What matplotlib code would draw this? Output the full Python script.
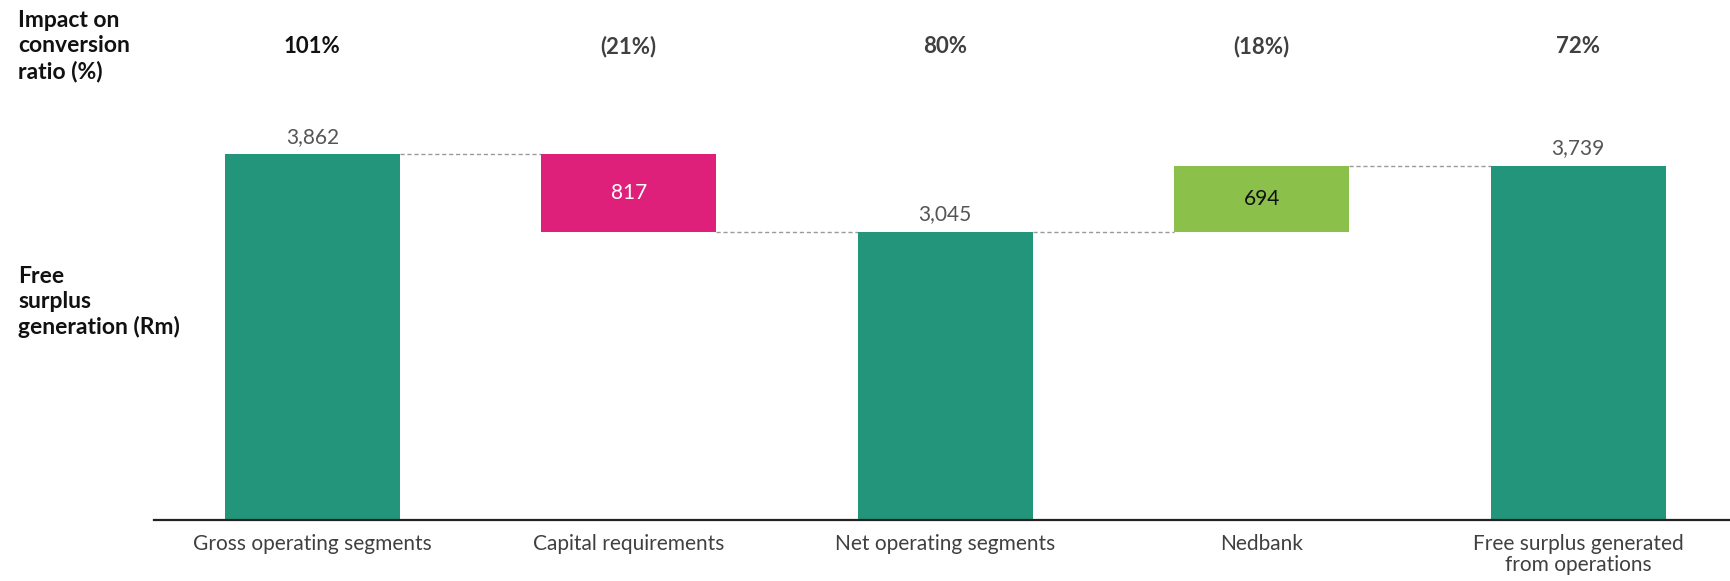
import matplotlib.pyplot as plt

# Waterfall values (Rm)
categories = ["Gross operating segments", "Capital requirements", "Net operating segments",
              "Nedbank", "Free surplus generated\nfrom operations"]
values = [3862, -817, 3045, 694, 3739]
kinds = ["total", "delta", "total", "delta", "total"]
ratio_labels = ["101%", "(21%)", "80%", "(18%)", "72%"]

TEAL = "#23957A"
PINK = "#DE207A"
LIME = "#8BC04B"
TEXT = "#404040"

plt.rcParams['font.family'] = ['Lato', 'DejaVu Sans']

fig = plt.figure(figsize=(17.3, 5.81), dpi=100)
ax = fig.add_axes([154 / 1730, 61 / 581, 1 - 154 / 1730, 520 / 581])

width = 0.553
running = 0
levels = []
for i, (v, kind) in enumerate(zip(values, kinds)):
    if kind == "total":
        bottom, height = 0, v
        running = v
        color = TEAL
    else:
        start = running
        running = running + v
        bottom = min(start, running)
        height = abs(v)
        color = PINK if v < 0 else LIME
    ax.bar(i, height, bottom=bottom, width=width, color=color, zorder=2)
    levels.append(running)

    if kind == "total":
        ax.text(i, v + 80, f"{v:,}", ha="center", va="bottom", fontsize=15,
                color="#555555")
    else:
        ax.text(i, bottom + height / 2, f"{abs(v):,}", ha="center", va="center",
                fontsize=15, color="white" if v < 0 else "#111111")

# dashed connectors between bars
for i in range(len(values) - 1):
    ax.plot([i + width / 2, i + 1 - width / 2], [levels[i], levels[i]], ls=(0, (3, 2)),
            color="#9a9a9a", lw=1, zorder=1)

# conversion ratio row
for i, lab in enumerate(ratio_labels):
    ax.text(i, 0.9115, lab, transform=ax.get_xaxis_transform(), ha="center",
            va="center", fontsize=16, fontweight="bold",
            color="#111111" if i == 0 else TEXT)

ax.set_xlim(-0.5, 4.48)
ax.set_ylim(0, 5491)
ax.set_xticks(range(len(categories)))
ax.set_xticklabels(categories, fontsize=15, color=TEXT, linespacing=1.1)
ax.tick_params(axis="x", length=0, pad=10)
ax.set_yticks([])
for s in ["top", "right", "left"]:
    ax.spines[s].set_visible(False)
ax.spines["bottom"].set_linewidth(1.6)
ax.spines["bottom"].set_color("#222222")

fig.text(18 / 1730, 1 - 46 / 581, "Impact on\nconversion\nratio (%)", ha="left",
         va="center", fontsize=16.5, fontweight="bold", color="#111111", linespacing=1.25)
fig.text(18 / 1730, 1 - 302 / 581, "Free\nsurplus\ngeneration (Rm)", ha="left",
         va="center", fontsize=16.5, fontweight="bold", color="#111111", linespacing=1.2)

fig.savefig("out.png", dpi=100)
